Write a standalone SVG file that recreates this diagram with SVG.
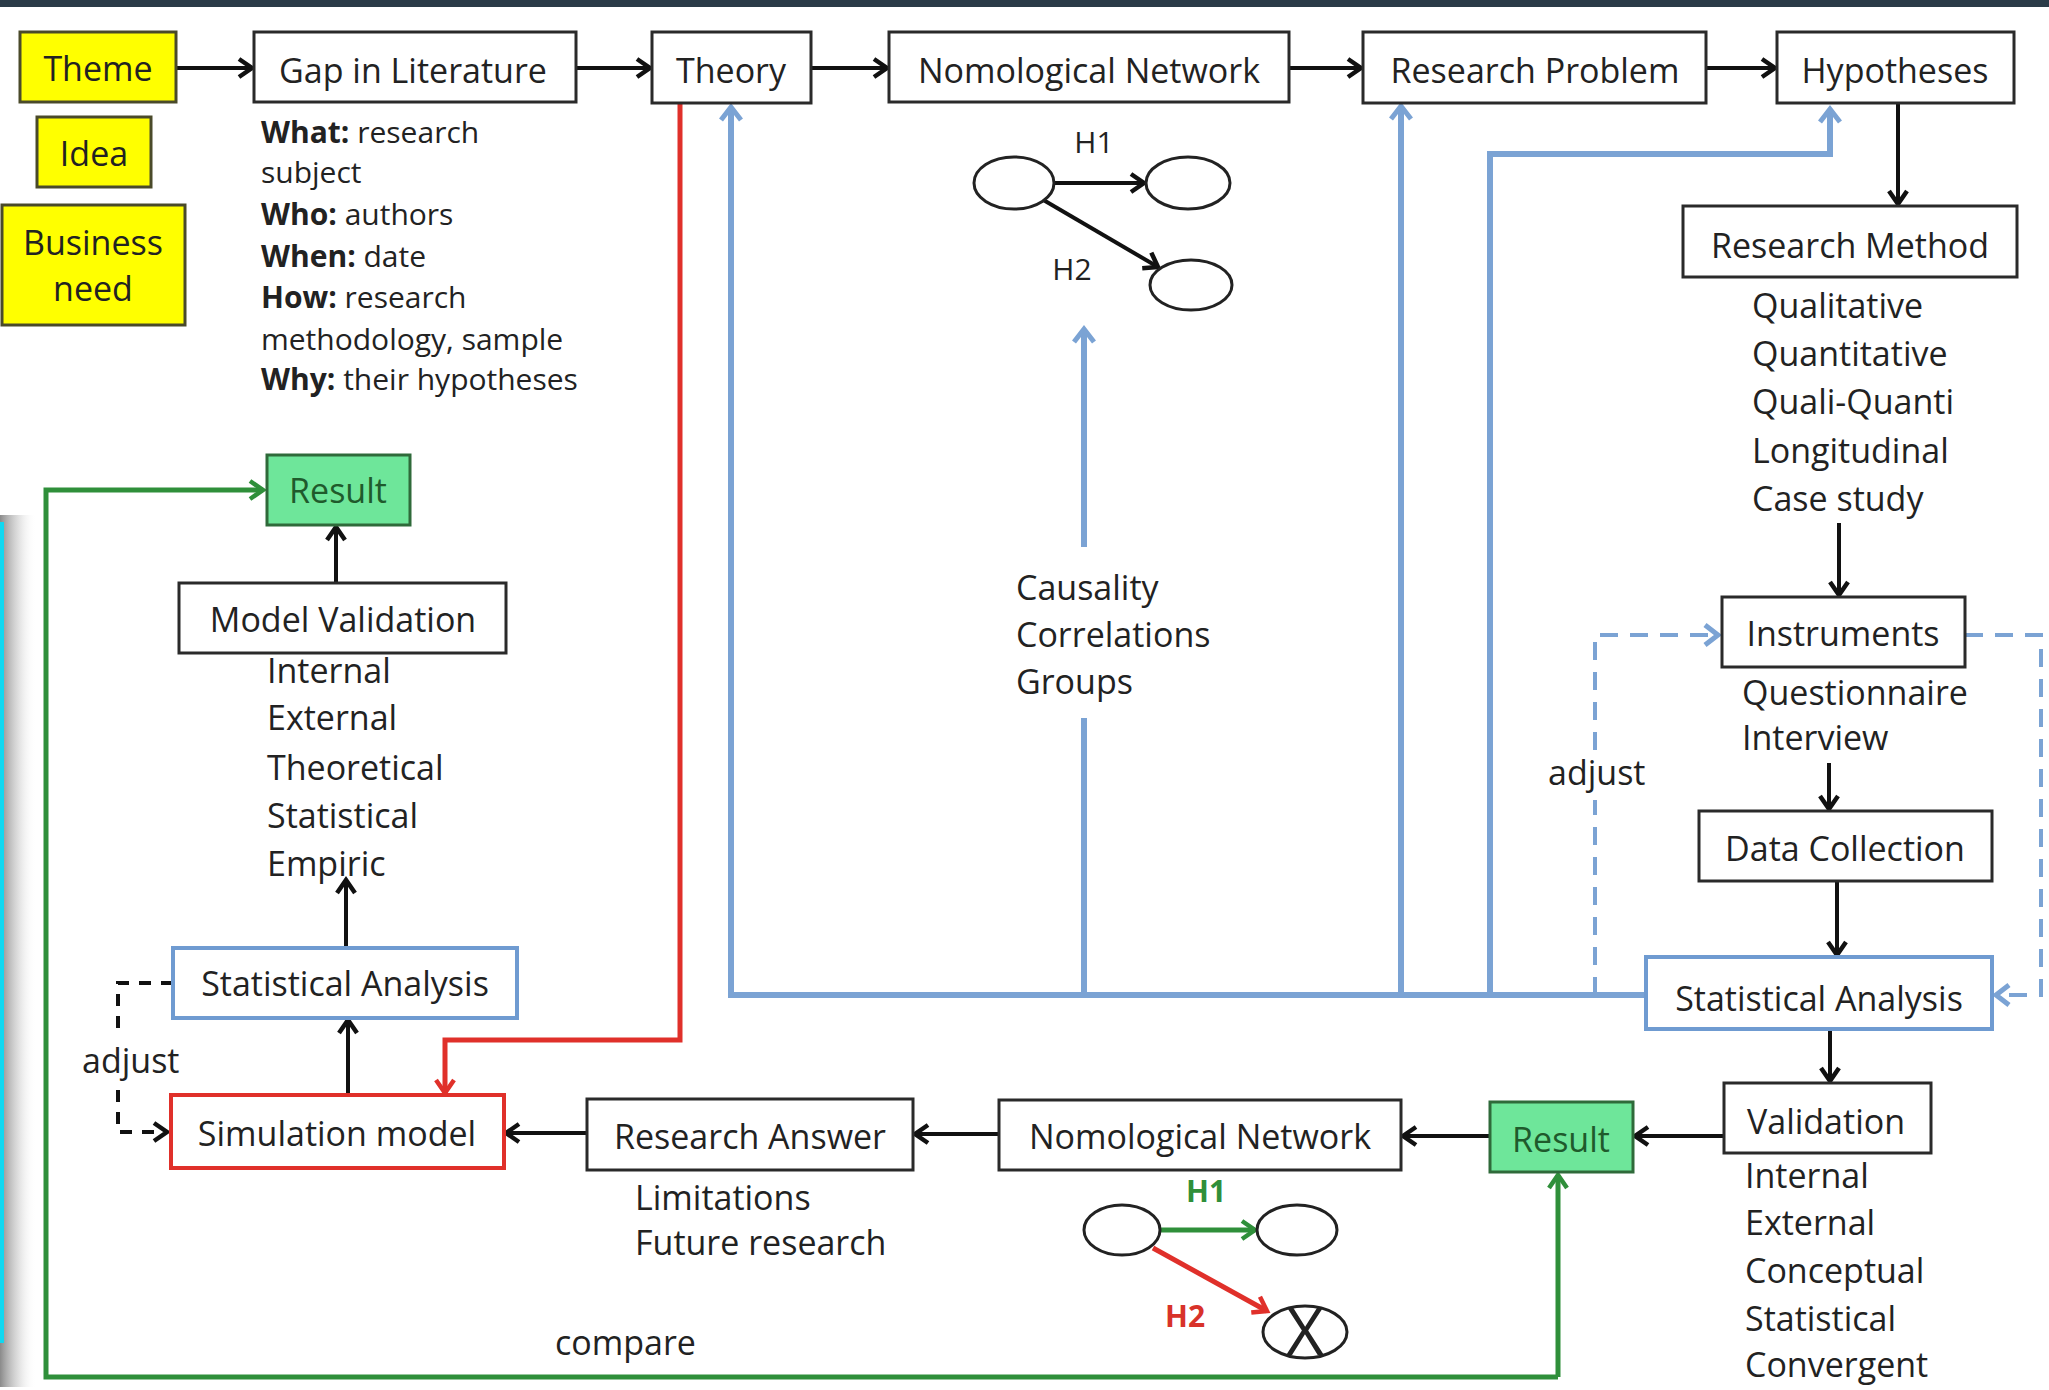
<svg xmlns="http://www.w3.org/2000/svg" width="2049" height="1390" viewBox="0 0 2049 1390">
<style>
.t{font-family:'Open Sans','Liberation Sans',sans-serif;font-size:34px;fill:#222}
.c{text-anchor:middle}
.s{font-size:30px}
.b{font-weight:bold}
.box{fill:#fff;stroke:#2a2a2a;stroke-width:3}
.yel{fill:#ffff00;stroke:#4a4a2a;stroke-width:3}
.grn{fill:#6ee69a;stroke:#2f6a3a;stroke-width:3}
.blu{fill:#fff;stroke:#6f9bd1;stroke-width:4}
.red{fill:#fff;stroke:#e0302a;stroke-width:4}
.ell{fill:#fff;stroke:#222;stroke-width:3}
.ck{fill:none;stroke:#111;stroke-width:4}
.cb{fill:none;stroke:#7ba3d4;stroke-width:6}
.cbd{fill:none;stroke:#7ba3d4;stroke-width:4;stroke-dasharray:18 12}
.ckd{fill:none;stroke:#111;stroke-width:4;stroke-dasharray:12 10}
.cr{fill:none;stroke:#e0302a;stroke-width:5}
.cg{fill:none;stroke:#2f8f3a;stroke-width:5}
</style>
<defs>
<marker id="ak" markerUnits="userSpaceOnUse" markerWidth="30" markerHeight="30" viewBox="-20 -15 30 30" refX="0" refY="0" orient="auto"><path d="M-13,-9 L0,0 L-13,9" fill="none" stroke="#111" stroke-width="4.5"/></marker>
<marker id="ab" markerUnits="userSpaceOnUse" markerWidth="30" markerHeight="30" viewBox="-20 -15 30 30" refX="0" refY="0" orient="auto"><path d="M-13,-10 L0,0 L-13,10" fill="none" stroke="#7ba3d4" stroke-width="5"/></marker>
<marker id="ar" markerUnits="userSpaceOnUse" markerWidth="30" markerHeight="30" viewBox="-20 -15 30 30" refX="0" refY="0" orient="auto"><path d="M-13,-9 L0,0 L-13,9" fill="none" stroke="#e0302a" stroke-width="4.5"/></marker>
<marker id="ag" markerUnits="userSpaceOnUse" markerWidth="30" markerHeight="30" viewBox="-20 -15 30 30" refX="0" refY="0" orient="auto"><path d="M-13,-9 L0,0 L-13,9" fill="none" stroke="#2f8f3a" stroke-width="4.5"/></marker>
<linearGradient id="sh" x1="0" y1="0" x2="1" y2="0"><stop offset="0" stop-color="#8a8a8a" stop-opacity="1"/><stop offset="0.5" stop-color="#c8c8c8" stop-opacity="0.6"/><stop offset="1" stop-color="#ffffff" stop-opacity="0"/></linearGradient>
</defs>
<rect x="0" y="0" width="2049" height="1390" fill="#fff"/>
<rect x="0" y="0" width="2049" height="7" fill="#2a3b48"/>
<rect x="0" y="515" width="36" height="872" fill="url(#sh)"/>
<rect x="0" y="522" width="4" height="821" fill="#10d8f0"/>

<g id="connectors">
<path class="ck" d="M176,68 H252" marker-end="url(#ak)"/>
<path class="ck" d="M576,68 H650" marker-end="url(#ak)"/>
<path class="ck" d="M811,68 H887" marker-end="url(#ak)"/>
<path class="ck" d="M1289,68 H1361" marker-end="url(#ak)"/>
<path class="ck" d="M1706,68 H1775" marker-end="url(#ak)"/>
<path class="ck" d="M1898,103 V204" marker-end="url(#ak)"/>
<path class="ck" d="M1839,523 V595" marker-end="url(#ak)"/>
<path class="ck" d="M1829,763 V809" marker-end="url(#ak)"/>
<path class="ck" d="M1837,881 V955" marker-end="url(#ak)"/>
<path class="ck" d="M1830,1029 V1081" marker-end="url(#ak)"/>
<path class="ck" d="M1724,1136 H1635" marker-end="url(#ak)"/>
<path class="ck" d="M1490,1136 H1403" marker-end="url(#ak)"/>
<path class="ck" d="M999,1134 H915" marker-end="url(#ak)"/>
<path class="ck" d="M587,1133 H506" marker-end="url(#ak)"/>
<path class="ck" d="M348,1095 V1020" marker-end="url(#ak)"/>
<path class="ck" d="M346,948 V880" marker-end="url(#ak)"/>
<path class="ck" d="M336,583 V527" marker-end="url(#ak)"/>
<path class="ck" d="M1054,183 H1144" marker-end="url(#ak)"/>
<path class="ck" d="M1040,198 L1158,267" marker-end="url(#ak)"/>
<path class="cb" d="M1646,995 H731 V107" marker-end="url(#ab)"/>
<path class="cb" d="M1084,995 V718"/>
<path class="cb" d="M1084,547 V329" marker-end="url(#ab)"/>
<path class="cb" d="M1401,995 V106" marker-end="url(#ab)"/>
<path class="cb" d="M1490,995 V154 H1830 V109" marker-end="url(#ab)"/>
<path class="cbd" d="M1595,995 V800"/>
<path class="cbd" d="M1595,750 V635 H1718" marker-end="url(#ab)"/>
<path class="cbd" d="M1965,635 H2041 V995 H1996" marker-end="url(#ab)"/>
<path class="ckd" d="M173,983 H118 V1035"/>
<path class="ckd" d="M118,1090 V1132 H167" marker-end="url(#ak)"/>
<path class="cr" d="M680,103 V1040 H445 V1093" marker-end="url(#ar)"/>
<path class="cg" d="M1558,1377 V1175" marker-end="url(#ag)"/>
<path class="cg" d="M1558,1377 H46 V490 H263" marker-end="url(#ag)"/>
<path class="cg" d="M1160,1230 H1255" marker-end="url(#ag)"/>
<path class="cr" d="M1153,1248 L1267,1311" marker-end="url(#ar)"/>
</g>

<g id="theme"><rect class="yel" x="20" y="32" width="156" height="70"/><text class="t c" x="98" y="81">Theme</text></g>
<g id="idea"><rect class="yel" x="37" y="117" width="114" height="70"/><text class="t c" x="94" y="166">Idea</text></g>
<g id="business-need"><rect class="yel" x="2" y="205" width="183" height="120"/><text class="t c" x="93" y="255">Business</text><text class="t c" x="93" y="301">need</text></g>
<g id="gap"><rect class="box" x="254" y="32" width="322" height="70"/><text class="t c" x="413" y="83">Gap in Literature</text>
<text class="t s" x="261" y="143"><tspan class="b">What:</tspan> research</text>
<text class="t s" x="261" y="183">subject</text>
<text class="t s" x="261" y="225"><tspan class="b">Who:</tspan> authors</text>
<text class="t s" x="261" y="267"><tspan class="b">When:</tspan> date</text>
<text class="t s" x="261" y="308"><tspan class="b">How:</tspan> research</text>
<text class="t s" x="261" y="350">methodology, sample</text>
<text class="t s" x="261" y="390"><tspan class="b">Why:</tspan> their hypotheses</text></g>
<g id="theory"><rect class="box" x="652" y="32" width="159" height="71"/><text class="t c" x="731" y="83">Theory</text></g>
<g id="nomological-top"><rect class="box" x="889" y="32" width="400" height="70"/><text class="t c" x="1089" y="83">Nomological Network</text></g>
<g id="network-top"><ellipse class="ell" cx="1014" cy="183" rx="40" ry="26"/><ellipse class="ell" cx="1188" cy="183" rx="42" ry="26"/><ellipse class="ell" cx="1191" cy="285" rx="41" ry="25"/>
<text class="t s c" x="1094" y="153">H1</text><text class="t s c" x="1072" y="280">H2</text></g>
<g id="research-problem"><rect class="box" x="1363" y="32" width="343" height="71"/><text class="t c" x="1535" y="83">Research Problem</text></g>
<g id="hypotheses"><rect class="box" x="1777" y="32" width="237" height="71"/><text class="t c" x="1895" y="83">Hypotheses</text></g>
<g id="research-method"><rect class="box" x="1683" y="206" width="334" height="71"/><text class="t c" x="1850" y="258">Research Method</text>
<text class="t" x="1752" y="318">Qualitative</text><text class="t" x="1752" y="366">Quantitative</text><text class="t" x="1752" y="414">Quali-Quanti</text><text class="t" x="1752" y="463">Longitudinal</text><text class="t" x="1752" y="511">Case study</text></g>
<g id="instruments"><rect class="box" x="1722" y="597" width="243" height="70"/><text class="t c" x="1843" y="646">Instruments</text>
<text class="t" x="1742" y="705">Questionnaire</text><text class="t" x="1742" y="750">Interview</text></g>
<g id="data-collection"><rect class="box" x="1699" y="811" width="293" height="70"/><text class="t c" x="1845" y="861">Data Collection</text></g>
<g id="stat-analysis-right"><rect class="blu" x="1646" y="957" width="346" height="72"/><text class="t c" x="1819" y="1011">Statistical Analysis</text></g>
<text class="t" x="1548" y="785">adjust</text>
<g id="validation"><rect class="box" x="1724" y="1083" width="207" height="70"/><text class="t c" x="1826" y="1134">Validation</text>
<text class="t" x="1745" y="1188">Internal</text><text class="t" x="1745" y="1235">External</text><text class="t" x="1745" y="1283">Conceptual</text><text class="t" x="1745" y="1331">Statistical</text><text class="t" x="1745" y="1377">Convergent</text></g>
<g id="result-right"><rect class="grn" x="1490" y="1102" width="143" height="70"/><text class="t c" x="1561" y="1152" style="fill:#1f5a2c">Result</text></g>
<g id="nomological-bottom"><rect class="box" x="999" y="1100" width="402" height="70"/><text class="t c" x="1200" y="1149">Nomological Network</text></g>
<g id="network-bottom"><ellipse class="ell" cx="1122" cy="1230" rx="38" ry="25"/><ellipse class="ell" cx="1297" cy="1230" rx="40" ry="25"/><ellipse class="ell" cx="1305" cy="1332" rx="42" ry="26"/>
<text class="t c" x="1305" y="1355" style="font-size:66px">X</text>
<text class="t s c b" x="1206" y="1202" style="fill:#2f8f3a">H1</text><text class="t s c b" x="1185" y="1327" style="fill:#d8322a">H2</text></g>
<g id="causality"><text class="t" x="1016" y="600">Causality</text><text class="t" x="1016" y="647">Correlations</text><text class="t" x="1016" y="694">Groups</text></g>
<g id="research-answer"><rect class="box" x="587" y="1099" width="326" height="71"/><text class="t c" x="750" y="1149">Research Answer</text>
<text class="t" x="635" y="1210">Limitations</text><text class="t" x="635" y="1255">Future research</text></g>
<g id="simulation-model"><rect class="red" x="171" y="1095" width="333" height="73"/><text class="t c" x="337" y="1146">Simulation model</text></g>
<g id="stat-analysis-left"><rect class="blu" x="173" y="948" width="344" height="70"/><text class="t c" x="345" y="996">Statistical Analysis</text></g>
<text class="t" x="82" y="1073">adjust</text>
<g id="model-validation"><rect class="box" x="179" y="583" width="327" height="70"/><text class="t c" x="343" y="632">Model Validation</text>
<text class="t" x="267" y="683">Internal</text><text class="t" x="267" y="730">External</text><text class="t" x="267" y="780">Theoretical</text><text class="t" x="267" y="828">Statistical</text><text class="t" x="267" y="876">Empiric</text></g>
<g id="result-left"><rect class="grn" x="267" y="455" width="143" height="70"/><text class="t c" x="338" y="503" style="fill:#1f5a2c">Result</text></g>
<text class="t" x="555" y="1355">compare</text>
</svg>
